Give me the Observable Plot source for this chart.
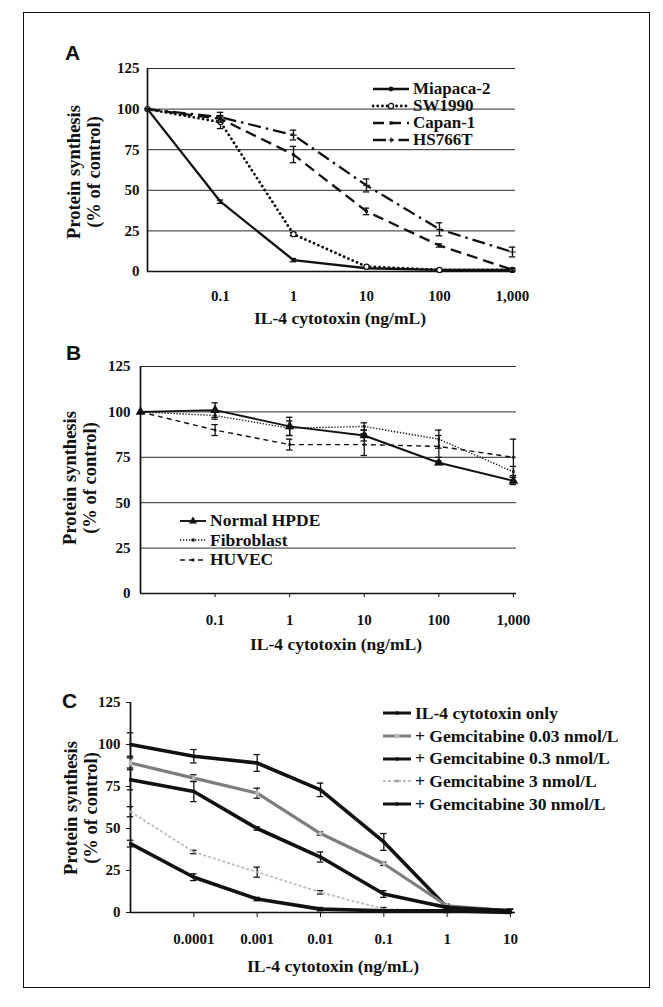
<!DOCTYPE html>
<html><head><meta charset="utf-8">
<script src="https://cdn.jsdelivr.net/npm/d3@7"></script>
<script src="https://cdn.jsdelivr.net/npm/@observablehq/plot@0.6"></script>
<style>
body{margin:0;background:#fff;}
#page{position:relative;width:663px;height:1007px;background:#fff;overflow:hidden;font-family:"Liberation Serif","Times New Roman",serif;color:#111;}
.frame{position:absolute;left:23px;top:12px;width:625px;height:974px;border:1.6px solid #111;}
.panel{position:absolute;left:0;}
.panel svg{font-family:"Liberation Serif","Times New Roman",serif;font-size:15px;font-weight:bold;}
.letter{position:absolute;font-family:"Liberation Sans",Arial,sans-serif;font-weight:bold;font-size:21px;line-height:21px;}
.ytitle{position:absolute;font-weight:bold;font-size:18.5px;line-height:20px;transform:translate(-50%,-50%) rotate(-90deg);white-space:nowrap;text-align:center;}
.xtitle{position:absolute;font-weight:bold;font-size:17.5px;line-height:18px;transform:translate(-50%,-50%);white-space:nowrap;}
.legend{position:absolute;font-weight:bold;}
.legend .row{display:flex;align-items:center;white-space:nowrap;}
.legend svg{display:block;margin-right:3px;}
</style></head>
<body><div id="page"></div>
<script>
// ---------- DATA ----------
const yTicks = [0, 25, 50, 75, 100, 125];

// Panel A
const concA = [0.01, 0.1, 1, 10, 100, 1000];
const xTicksA = [0.1, 1, 10, 100, 1000];
const xTickLabelsA = ["0.1", "1", "10", "100", "1,000"];
const namesA = ["Miapaca-2", "SW1990", "Capan-1", "HS766T"];
const miapaca = [100, 43, 7, 2, 1, 1];
const miapacaErr = [0, 1, 1, 0, 0, 0];
const sw1990 = [100, 92, 23, 3, 1, 1];
const sw1990Err = [0, 4, 1, 0, 0, 0];
const capan1 = [100, 94, 72, 37, 16, 1];
const capan1Err = [0, 2, 5, 2, 1, 1];
const hs766t = [100, 95, 84, 53, 26, 12];
const hs766tErr = [0, 3, 3, 4, 4, 3];

// Panel B
const concB = [0.01, 0.1, 1, 10, 100, 1000];
const xTicksB = [0.1, 1, 10, 100, 1000];
const xTickLabelsB = ["0.1", "1", "10", "100", "1,000"];
const namesB = ["Normal HPDE", "Fibroblast", "HUVEC"];
const hpde = [100, 101, 92, 87, 72, 62];
const hpdeErr = [0, 4, 5, 3, 1, 2];
const fibroblast = [100, 98, 91, 92, 85, 67];
const fibroblastErr = [0, 2, 4, 2, 5, 3];
const huvec = [100, 90, 82, 82, 81, 75];
const huvecErr = [0, 3, 3, 6, 6, 10];

// Panel C
const concC = [0.00001, 0.0001, 0.001, 0.01, 0.1, 1, 10];
const xTicksC = [0.0001, 0.001, 0.01, 0.1, 1, 10];
const xTickLabelsC = ["0.0001", "0.001", "0.01", "0.1", "1", "10"];
const namesC = ["IL-4 cytotoxin only", "+ Gemcitabine 0.03 nmol/L", "+ Gemcitabine 0.3 nmol/L", "+ Gemcitabine 3 nmol/L", "+ Gemcitabine 30 nmol/L"];
const il4Only = [100, 93, 89, 73, 42, 3, 1];
const il4OnlyErr = [7, 4, 5, 4, 5, 1, 1];
const gem003 = [89, 80, 71, 47, 29, 4, 1];
const gem003Err = [3, 2, 3, 1, 1, 1, 1];
const gem03 = [79, 72, 50, 33, 11, 3, 1];
const gem03Err = [6, 6, 1, 3, 2, 1, 1];
const gem3 = [60, 36, 24, 12, 2, 1, 0];
const gem3Err = [3, 1, 3, 1, 1, 1, 0];
const gem30 = [41, 21, 8, 2, 1, 1, 0];
const gem30Err = [2, 2, 1, 1, 0, 0, 0];

const yTitle = ["Protein synthesis", "(% of control)"];
const xTitle = "IL-4 cytotoxin (ng/mL)";

// ---------- STYLES ----------
const stylesA = [
  {stroke: "#111", width: 2.3, dash: null, cap: "butt", symbol: "circle", r: 1.8, fill: "#111"},
  {stroke: "#111", width: 2.8, dash: "0.1,4.6", cap: "round", symbol: "circle", r: 2.6, fill: "#fff"},
  {stroke: "#111", width: 2.3, dash: "11,6", cap: "butt", symbol: "square", r: 1.6, fill: "#111"},
  {stroke: "#111", width: 2.3, dash: "13,5,2.5,5", cap: "butt", symbol: "plus", r: 2.2, fill: "#111"}
];
const stylesB = [
  {stroke: "#111", width: 1.9, dash: null, cap: "butt", symbol: "triangle", r: 3.6, fill: "#111"},
  {stroke: "#111", width: 1.4, dash: "1.3,1.7", cap: "butt", symbol: "square", r: 1.5, fill: "#111"},
  {stroke: "#111", width: 1.4, dash: "5,4", cap: "butt", symbol: "square", r: 1.4, fill: "#111"}
];
const stylesC = [
  {stroke: "#111", width: 3.6, dash: null, cap: "butt", symbol: "square", r: 1.6, fill: "#111"},
  {stroke: "#7e7e7e", width: 3.2, dash: null, cap: "butt", symbol: "diamond", r: 2.2, fill: "#bbb"},
  {stroke: "#111", width: 3.6, dash: null, cap: "butt", symbol: "square", r: 1.6, fill: "#111"},
  {stroke: "#bdbdbd", width: 1.8, dash: "3,2", cap: "butt", symbol: "square", r: 1.4, fill: "#999"},
  {stroke: "#111", width: 3.6, dash: null, cap: "butt", symbol: "square", r: 1.6, fill: "#111"}
];

const page = document.getElementById("page");
function add(html) { page.insertAdjacentHTML("beforeend", html); }

add('<div class="frame"></div>');

function makePanel(cfg) {
  const rows = cfg.series.flatMap((s, k) => s.values.map((v, i) => ({k, name: s.name, x: cfg.conc[i], y: v, e: s.err[i]})));
  const marks = [];
  if (cfg.grid) marks.push(Plot.ruleY(yTicks, {stroke: "#2a2a2a", strokeWidth: 1}));
  marks.push(Plot.ruleY([0], {stroke: "#111", strokeWidth: 1.7}));
  marks.push(Plot.ruleX([cfg.xDomain[0]], {stroke: "#111", strokeWidth: 1.7}));
  cfg.series.forEach((s, k) => {
    const st = cfg.styles[k];
    const d = rows.filter(r => r.k === k);
    const de = d.filter(r => r.e > 0);
    marks.push(Plot.ruleX(de, {x: "x", y1: r => r.y - r.e, y2: r => r.y + r.e, stroke: "#111", strokeWidth: 1.3}));
    marks.push(Plot.ruleY(de, {x1: "x", x2: "x", y: r => r.y - r.e, insetLeft: -3.2, insetRight: -3.2, stroke: "#111", strokeWidth: 1.3}));
    marks.push(Plot.ruleY(de, {x1: "x", x2: "x", y: r => r.y + r.e, insetLeft: -3.2, insetRight: -3.2, stroke: "#111", strokeWidth: 1.3}));
    marks.push(Plot.line(d, {x: "x", y: "y", stroke: st.stroke, strokeWidth: st.width, strokeDasharray: st.dash, strokeLinecap: st.cap, curve: "linear"}));
    marks.push(Plot.dot(d, {x: "x", y: "y", symbol: st.symbol, r: st.r, fill: st.fill, stroke: st.symbol === "plus" ? "#111" : (st.fill === "#fff" ? "#111" : "none"), strokeWidth: 1.2}));
  });
  const chart = Plot.plot({
    width: 663, height: cfg.height,
    marginLeft: cfg.marginLeft, marginRight: cfg.marginRight, marginTop: cfg.marginTop, marginBottom: cfg.marginBottom,
    x: {type: "log", domain: cfg.xDomain, ticks: cfg.xTicks, tickFormat: d => cfg.xLabels[cfg.xTicks.indexOf(d)], tickSize: cfg.xTickSize, tickPadding: cfg.xTickPadding, label: null},
    y: {domain: [0, 125], ticks: yTicks, tickSize: cfg.yTickSize, tickPadding: cfg.yTickPadding, label: null},
    marks
  });
  const div = document.createElement("div");
  div.className = "panel";
  div.style.top = cfg.top + "px";
  div.appendChild(chart);
  page.appendChild(div);
}

function legendSample(st, w) {
  const mid = w / 2;
  let mk = "";
  if (st.symbol === "circle") mk = `<circle cx="${mid}" cy="6" r="${st.r}" fill="${st.fill}" stroke="#111" stroke-width="1.2"/>`;
  else if (st.symbol === "triangle") mk = `<path d="M${mid},1.5L${mid + 4},8.5L${mid - 4},8.5Z" fill="#111"/>`;
  else if (st.symbol === "plus") mk = `<path d="M${mid - 2.5},6H${mid + 2.5}M${mid},3.5V8.5" stroke="#111" stroke-width="1.2"/>`;
  else if (st.symbol === "diamond") mk = `<path d="M${mid},3L${mid + 3},6L${mid},9L${mid - 3},6Z" fill="${st.fill}"/>`;
  else mk = `<rect x="${mid - st.r}" y="${6 - st.r}" width="${2 * st.r}" height="${2 * st.r}" fill="${st.fill}"/>`;
  return `<svg width="${w}" height="12"><line x1="1" x2="${w - 1}" y1="6" y2="6" stroke="${st.stroke}" stroke-width="${Math.min(st.width, 3)}" ${st.dash ? `stroke-dasharray="${st.dash}"` : ""} stroke-linecap="${st.cap}"/>${mk}</svg>`;
}

function addLegend(names, styles, left, top, rowH, fontSize, w) {
  let h = `<div class="legend" style="left:${left}px;top:${top}px;font-size:${fontSize}px;">`;
  names.forEach((n, i) => {
    h += `<div class="row" style="height:${rowH}px;">${legendSample(styles[i], w)}<span>${n}</span></div>`;
  });
  h += "</div>";
  add(h);
}

function addTitles(letter, lx, ly, yx, yy, xx, xy) {
  add(`<div class="letter" style="left:${lx}px;top:${ly}px;">${letter}</div>`);
  add(`<div class="ytitle" style="left:${yx}px;top:${yy}px;">${yTitle[0]}<br>${yTitle[1]}</div>`);
  add(`<div class="xtitle" style="left:${xx}px;top:${xy}px;">${xTitle}</div>`);
}

// Panel A
makePanel({
  top: 60, height: 250, marginTop: 8, marginBottom: 39, marginLeft: 147, marginRight: 148,
  xDomain: [0.01, 1100], xTicks: xTicksA, xLabels: xTickLabelsA, conc: concA,
  xTickSize: 0, xTickPadding: 19, yTickSize: 0, yTickPadding: 8, grid: true,
  series: [
    {name: namesA[0], values: miapaca, err: miapacaErr},
    {name: namesA[1], values: sw1990, err: sw1990Err},
    {name: namesA[2], values: capan1, err: capan1Err},
    {name: namesA[3], values: hs766t, err: hs766tErr}
  ],
  styles: stylesA
});
addTitles("A", 65, 42, 84, 172, 340, 318);
addLegend(namesA, stylesA, 372, 80, 17, 17, 38);

// Panel B
makePanel({
  top: 355, height: 285, marginTop: 11, marginBottom: 47, marginLeft: 140, marginRight: 147,
  xDomain: [0.01, 1100], xTicks: xTicksB, xLabels: xTickLabelsB, conc: concB,
  xTickSize: 4, xTickPadding: 17, yTickSize: 0, yTickPadding: 10, grid: true,
  series: [
    {name: namesB[0], values: hpde, err: hpdeErr},
    {name: namesB[1], values: fibroblast, err: fibroblastErr},
    {name: namesB[2], values: huvec, err: huvecErr}
  ],
  styles: stylesB
});
addTitles("B", 66, 342, 80, 478, 336, 644);
addLegend(namesB, stylesB, 179, 511, 19.5, 17.5, 28);

// Panel C
makePanel({
  top: 690, height: 265, marginTop: 12, marginBottom: 43, marginLeft: 130, marginRight: 148,
  xDomain: [0.00001, 12], xTicks: xTicksC, xLabels: xTickLabelsC, conc: concC,
  xTickSize: 5, xTickPadding: 16, yTickSize: 4, yTickPadding: 6, grid: false,
  series: [
    {name: namesC[0], values: il4Only, err: il4OnlyErr},
    {name: namesC[1], values: gem003, err: gem003Err},
    {name: namesC[2], values: gem03, err: gem03Err},
    {name: namesC[3], values: gem3, err: gem3Err},
    {name: namesC[4], values: gem30, err: gem30Err}
  ],
  styles: stylesC
});
addTitles("C", 62, 690, 81, 808, 333, 966);
addLegend(namesC, stylesC, 382, 702, 22.7, 17.5, 30);
</script>
</body></html>
